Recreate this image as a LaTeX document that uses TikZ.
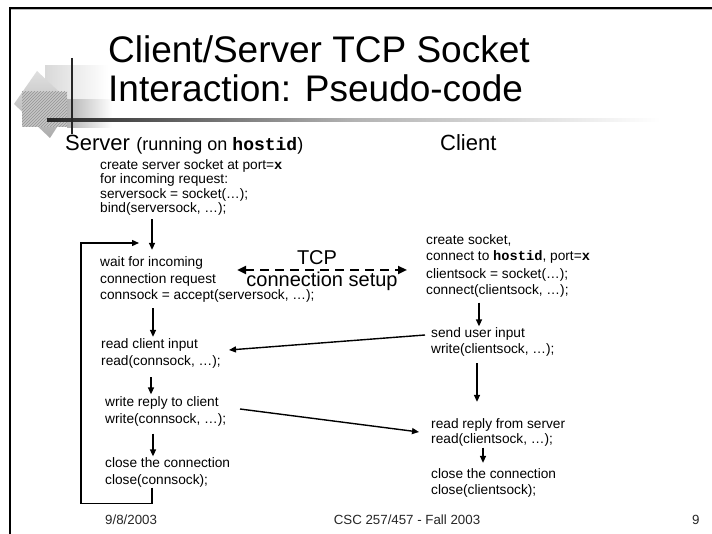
\documentclass[tikz,border=0pt]{standalone}
\usepackage{fontspec}
\setmainfont{Liberation Sans}
\newfontfamily\codefont{Liberation Mono}
\usetikzlibrary{arrows.meta,patterns}
\newcommand{\code}[1]{{\codefont\bfseries #1}}

\begin{document}
\begin{tikzpicture}[x=1pt,y=-1pt,
  body/.style={font=\fontsize{13.7}{16}\selectfont, inner sep=0pt, anchor=base west, align=left},
  titletext/.style={font=\fontsize{37}{40}\selectfont, inner sep=0pt, anchor=base west},
  head/.style={font=\fontsize{22}{24}\selectfont, inner sep=0pt, anchor=base west},
  lab/.style={font=\fontsize{20}{22}\selectfont, inner sep=0pt, anchor=base},
  foot/.style={font=\fontsize{13.3}{15}\selectfont, text=black!85, inner sep=0pt, anchor=base west},
  arr/.style={line width=1.4pt, -{Triangle[length=7pt,width=6pt]}},
  tcparrow/.style={line width=2.8pt, dash pattern=on 9pt off 6pt,
    {Triangle[length=9pt,width=8pt]}-{Triangle[length=9pt,width=8pt]}}]

% page
\fill[white] (0,0) rectangle (712,534);
\useasboundingbox (0,0) rectangle (712,534);

% slide frame
\draw[gray!55, line width=1pt] (11,10) -- (712,10);
\draw[line width=2pt] (9,8) -- (712,8);
\draw[line width=2pt] (10,7) -- (10,534);

% template ornament
\shade[left color=gray!30, right color=white] (45,66) rectangle (108,108);
\shade[top color=gray!25, bottom color=gray!65] (37,71) -- (72,104) -- (50,138) -- (14,104) -- cycle;
\fill[gray!45] (22,92) rectangle (67,127);
\fill[pattern=north east lines, pattern color=gray!85] (22,92) rectangle (67,127);
\shade[left color=gray!60, right color=white] (67,100) rectangle (112,128);
\shade[left color=black!85, right color=white, middle color=gray!60] (47,118.5) rectangle (660,121.5);
\draw[line width=2.5pt, black!85] (72,58) -- (72,134);

% title
\node[titletext] (t1) at (108,63) {Client/Server TCP Socket};
\node[titletext] (t2) at (108,102) {Interaction: Pseudo-code};

% column headings
\node[head] (server) at (65,151) {Server};
\node[font=\fontsize{18}{20}\selectfont, inner sep=0pt, anchor=base west] (running)
  at ([xshift=6pt]server.base east) {(running on \code{hostid})};
\node[head] (client) at (440,151) {Client};

% server side (nodes are placed by the baseline of their last line)
\node[body, font=\fontsize{13.7}{14.5}\selectfont] (s1) at (100,213)
  {create server socket at port=\code{x}\\for incoming request:\\serversock = socket(…);\\bind(serversock, …);};
\node[body, font=\fontsize{13.7}{16.5}\selectfont] (s2) at (100,300)
  {wait for incoming\\connection request\\connsock = accept(serversock, …);};
\node[body, font=\fontsize{13.7}{17}\selectfont] (s3) at (101,366)
  {read client input\\read(connsock, …);};
\node[body, font=\fontsize{13.7}{17}\selectfont] (s4) at (105,423.5)
  {write reply to client\\write(connsock, …);};
\node[body, font=\fontsize{13.7}{17}\selectfont] (s5) at (105,484.5)
  {close the connection\\close(connsock);};

% client side
\node[body] (c1) at (426,294.5)
  {create socket,\\connect to \code{hostid}, port=\code{x}\\[2pt]clientsock = socket(…);\\connect(clientsock, …);};
\node[body] (c2) at (431,353.5)
  {send user input\\write(clientsock, …);};
\node[body, font=\fontsize{13.7}{15}\selectfont] (c3) at (431,443)
  {read reply from server\\read(clientsock, …);};
\node[body] (c4) at (431,494)
  {close the connection\\close(clientsock);};

% server flow
\draw[arr, shorten <=3pt, shorten >=7pt] ([xshift=52pt]s1.south west) -- ([xshift=52pt]s2.north west);
\draw[arr, shorten <=5pt, shorten >=2pt] ([xshift=53pt]s2.south west) -- ([xshift=52pt]s3.north west);
\draw[arr, shorten <=8pt, shorten >=2pt] ([xshift=50pt]s3.south west) -- ([xshift=46pt]s4.north west);
\draw[arr, shorten <=7pt, shorten >=1pt] ([xshift=48pt]s4.south west) -- ([xshift=48pt]s5.north west);
\coordinate (loopend) at (139,243);
\draw[arr] ([xshift=47pt]s5.south west) -- ++(0,16) -| (81,243) -- (loopend);

% client flow
\draw[arr, shorten <=5pt, shorten >=1pt] ([xshift=53pt]c1.south west) -- ([xshift=48pt]c2.north west);
\draw[arr, shorten <=6.5pt, shorten >=16pt] ([xshift=46pt]c2.south west) -- ([xshift=46pt]c3.north west);
\draw[arr, shorten <=1.5pt, shorten >=5pt] ([xshift=52pt]c3.south west) -- ([xshift=52pt]c4.north west);

% messages between the two sides
\draw[tcparrow] ([xshift=137pt,yshift=30pt]s2.base west) -- ([xshift=-19pt,yshift=24.5pt]c1.base west);
\node[lab] (tcp) at (317,265) {TCP};
\node[lab] (setup) at (322,287) {connection setup};
\draw[arr] ([xshift=-6pt,yshift=18.5pt]c2.base west) -- ([xshift=128pt,yshift=16pt]s3.base west);
\draw[arr] ([xshift=135pt,yshift=14.5pt]s4.base west) -- ([xshift=-12pt,yshift=11pt]c3.base west);

% footer
\node[foot] (date) at (105,524) {9/8/2003};
\node[foot, anchor=base] (course) at (407,524) {CSC 257/457 - Fall 2003};
\node[foot] (page) at (692,524) {9};
\end{tikzpicture}
\end{document}
